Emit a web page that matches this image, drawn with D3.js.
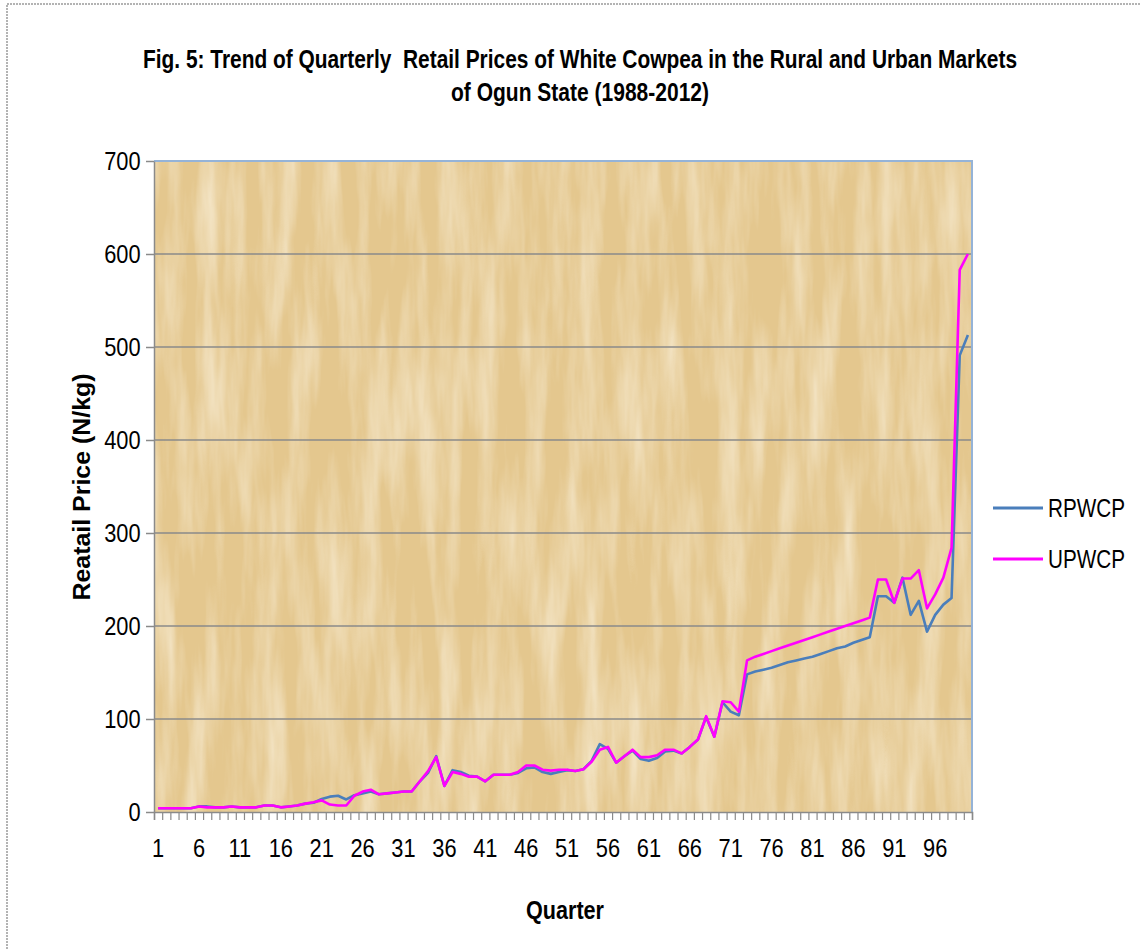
<!DOCTYPE html>
<html>
<head>
<meta charset="utf-8">
<script src="https://cdn.jsdelivr.net/npm/d3@7"></script>
<style>
  html, body { margin: 0; padding: 0; background: #fff; }
  svg { display: block; }
</style>
</head>
<body>
<svg id="chart" width="1141" height="949"></svg>
<script>
const width = 1141;
const height = 949;

// plot area
let plotLeft = 154, plotRight = 972, plotTop = 161, plotBottom = 812;

const quarters = d3.range(1, 101);
const xTickLabels = [1, 6, 11, 16, 21, 26, 31, 36, 41, 46, 51, 56, 61, 66, 71, 76, 81, 86, 91, 96];
const yTicks = [0, 100, 200, 300, 400, 500, 600, 700];

const seriesNames = ["RPWCP", "UPWCP"];
const seriesColors = ["#4a7ebb", "#ff00ff"];

// rural retail price (N/kg), quarters 1..100
const rpwcp = [
    4, 4, 4, 4, 4, 6, 6, 5, 5, 6,
    5, 5, 5, 7, 7, 5, 6, 7, 9, 10,
    14, 16.5, 17.5, 13.5, 18, 20, 22, 19, 20, 21,
    22, 22, 33, 42, 60, 28, 45, 43, 39, 38,
    33, 40, 40, 40, 42, 47, 48, 43, 41, 43,
    45, 44, 46, 55, 73, 68, 53, 60, 66, 57,
    55, 58, 65, 66, 63, 70, 78, 102, 81, 118,
    108, 104, 148, 151, 153, 155, 158, 161, 163, 165,
    167, 170, 173, 176, 178, 182, 185, 188, 232, 232,
    225, 252, 212, 227, 194, 212, 223, 230, 491, 513
];

// urban retail price (N/kg), quarters 1..100
const upwcp = [
    4, 4, 4, 4, 4, 6, 5, 5, 5, 6,
    5, 5, 5, 7, 7, 5, 6, 7, 9, 10.5,
    12.5, 8, 7, 7, 17.5, 22, 24, 19, 20, 21,
    22, 22, 33, 44, 59, 28, 43, 41, 38, 38,
    33, 40, 40, 40, 43, 50, 50, 45.5, 44.5, 45.5,
    45.5, 44, 46, 54, 67, 70, 53, 60, 67, 59,
    59, 61, 67, 67, 63, 70, 78, 103, 81, 119,
    118, 108, 163, 167, 170, 173, 176, 179, 182, 185,
    188, 191, 194, 197, 200, 203, 206, 209, 250, 250,
    225, 251, 251, 260, 219, 234, 252, 284, 583, 600
];

const sans = "'Liberation Sans', Arial, sans-serif";

const svg = d3.select("#chart");

// paper texture for plot background
const defs = svg.append("defs");
const filt = defs.append("filter")
    .attr("id", "paper")
    .attr("x", 0).attr("y", 0).attr("width", "100%").attr("height", "100%");
filt.append("feTurbulence")
    .attr("type", "fractalNoise")
    .attr("baseFrequency", "0.05 0.006")
    .attr("numOctaves", 4)
    .attr("seed", 7)
    .attr("result", "n");
filt.append("feColorMatrix")
    .attr("in", "n")
    .attr("type", "matrix")
    .attr("values", "0 0 0 0 1  0 0 0 0 0.96  0 0 0 0 0.86  1.1 0 0 0 -0.42");

// outer frame (only top and left edge visible)
svg.append("rect")
    .attr("x", 7).attr("y", 4)
    .attr("width", width + 20).attr("height", height + 20)
    .attr("fill", "none")
    .attr("stroke", "#9a9a9a")
    .attr("stroke-width", 1.5)
    .attr("stroke-dasharray", "2,1");

// scales
const x = d3.scaleBand()
    .domain(quarters)
    .range([plotLeft, plotRight]);

const xEdge = d3.scaleLinear()
    .domain([0, quarters.length])
    .range([plotLeft, plotRight]);

const y = d3.scaleLinear()
    .domain([0, 700])
    .range([plotBottom, plotTop]);

// plot background
svg.append("rect")
    .attr("x", plotLeft).attr("y", plotTop)
    .attr("width", plotRight - plotLeft).attr("height", plotBottom - plotTop)
    .attr("fill", "#e4c78e");
svg.append("rect")
    .attr("x", plotLeft).attr("y", plotTop)
    .attr("width", plotRight - plotLeft).attr("height", plotBottom - plotTop)
    .attr("fill", "#fff")
    .attr("filter", "url(#paper)");

// gridlines
svg.append("g")
    .selectAll("line")
    .data(yTicks.filter(d => d > 0 && d < 700))
    .join("line")
        .attr("x1", plotLeft)
        .attr("x2", plotRight)
        .attr("y1", d => y(d))
        .attr("y2", d => y(d))
        .attr("stroke", "#8a8a8a")
        .attr("stroke-width", 1.5);

// top and right border of plot
svg.append("path")
    .attr("d", `M${plotLeft},${plotTop}H${plotRight}V${plotBottom}`)
    .attr("fill", "none")
    .attr("stroke", "#95b3d7")
    .attr("stroke-width", 2);

// y axis
const yAxis = svg.append("g")
    .attr("transform", `translate(${plotLeft}, 0)`)
    .call(d3.axisLeft(y).tickValues(yTicks).tickSize(8).tickPadding(8).tickSizeOuter(0));
yAxis.select(".domain").attr("stroke", "#8a8a8a").attr("stroke-width", 1.5);
yAxis.selectAll(".tick line").attr("stroke", "#8a8a8a").attr("stroke-width", 1.5);
yAxis.selectAll("text")
    .attr("transform", "scale(0.84, 1)")
    .style("font-family", sans)
    .style("font-size", "26px")
    .attr("fill", "#000");

// x axis tick marks between categories
const xMarks = svg.append("g")
    .attr("transform", `translate(0, ${plotBottom})`)
    .call(d3.axisBottom(xEdge).tickValues(d3.range(0, quarters.length + 1)).tickSize(8).tickFormat(""));
xMarks.select(".domain").attr("stroke", "#8a8a8a").attr("stroke-width", 1.5);
xMarks.selectAll(".tick line").attr("stroke", "#8a8a8a").attr("stroke-width", 1.2);

// x axis labels
const xAxis = svg.append("g")
    .attr("transform", `translate(0, ${plotBottom})`)
    .call(d3.axisBottom(x).tickValues(xTickLabels).tickSize(0).tickPadding(27));
xAxis.select(".domain").remove();
xAxis.selectAll("text")
    .attr("transform", "scale(0.84, 1)")
    .style("font-family", sans)
    .style("font-size", "26px")
    .attr("fill", "#000");

// lines
const line = d3.line()
    .x((d, i) => x(quarters[i]) + x.bandwidth() / 2)
    .y(d => y(d));

svg.append("g")
    .selectAll("path")
    .data([rpwcp, upwcp])
    .join("path")
        .attr("d", d => line(d))
        .attr("fill", "none")
        .attr("stroke", (d, i) => seriesColors[i])
        .attr("stroke-width", 2.6)
        .attr("stroke-linejoin", "round");

// title
const titleLines = [
    "Fig. 5: Trend of Quarterly  Retail Prices of White Cowpea in the Rural and Urban Markets",
    "of Ogun State (1988-2012)"
];
const titleLens = [874, 258];
svg.append("g")
    .selectAll("text")
    .data(titleLines)
    .join("text")
        .attr("x", 580)
        .attr("y", (d, i) => 68 + i * 33)
        .attr("text-anchor", "middle")
        .attr("textLength", (d, i) => titleLens[i])
        .attr("lengthAdjust", "spacingAndGlyphs")
        .style("font-family", sans)
        .style("font-weight", "bold")
        .style("font-size", "26px")
        .style("white-space", "pre")
        .text(d => d);

// axis titles
svg.append("text")
    .attr("transform", `translate(90, 487) rotate(-90)`)
    .attr("text-anchor", "middle")
    .attr("textLength", 227)
    .attr("lengthAdjust", "spacingAndGlyphs")
    .style("font-family", sans)
    .style("font-weight", "bold")
    .style("font-size", "24px")
    .text("Reatail Price (N/kg)");

svg.append("text")
    .attr("x", 565)
    .attr("y", 919)
    .attr("text-anchor", "middle")
    .attr("textLength", 78)
    .attr("lengthAdjust", "spacingAndGlyphs")
    .style("font-family", sans)
    .style("font-weight", "bold")
    .style("font-size", "26px")
    .text("Quarter");

// legend
const legend = svg.append("g")
    .selectAll("g")
    .data(seriesNames)
    .join("g")
        .attr("transform", (d, i) => `translate(993, ${508 + i * 51})`);
legend.append("line")
    .attr("x1", 0).attr("x2", 50)
    .attr("y1", 0).attr("y2", 0)
    .attr("stroke", (d, i) => seriesColors[i])
    .attr("stroke-width", 3);
legend.append("text")
    .attr("x", 55)
    .attr("y", 9)
    .attr("textLength", 77)
    .attr("lengthAdjust", "spacingAndGlyphs")
    .style("font-family", sans)
    .style("font-size", "25px")
    .text(d => d);
</script>
</body>
</html>
